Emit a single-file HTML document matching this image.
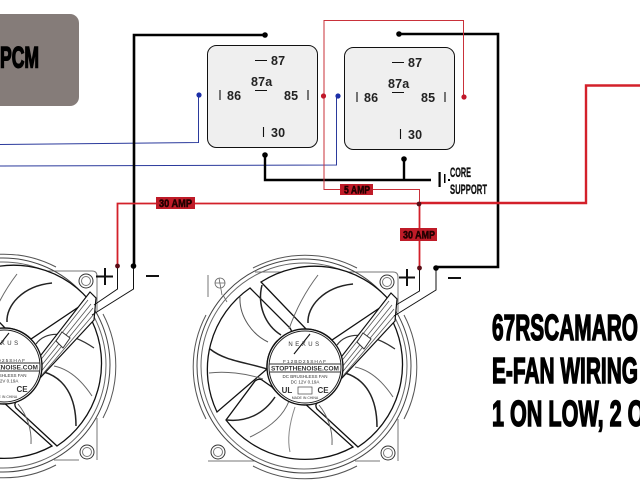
<!DOCTYPE html>
<html><head><meta charset="utf-8"><style>
html,body{margin:0;padding:0;background:#fff;width:640px;height:480px;overflow:hidden}
svg{display:block}
text{font-family:"Liberation Sans",sans-serif}
.h{font-weight:bold;fill:#000;stroke:#000;stroke-width:1.5}
.r{font-size:12.5px;font-weight:bold;fill:#222;letter-spacing:.2px}
.amp{font-size:11px;font-weight:bold;fill:#200;stroke:#200;stroke-width:.5}
.c{font-size:14px;font-weight:bold;fill:#111;stroke:#111;stroke-width:.3}
.f{fill:#333;text-anchor:middle}
</style></head><body>
<svg width="640" height="480" viewBox="0 0 640 480" xmlns="http://www.w3.org/2000/svg">
<defs>
<g id="fan" fill="none" stroke="#222" stroke-width="1">
  <!-- frame -->
  <path d="M-50,-95H88Q93,-95 93,-90V-55M93,52V94M-97,94H-50M50,94H75M-97,-70V-92" stroke="#777"/>
  <!-- outer ring arcs -->
  <path d="M-52,-99A112,112 0 0 1 52,-99" stroke="#555"/>
  <path d="M99,-52A112,112 0 0 1 99,52" stroke="#555"/>
  <path d="M52,99A112,112 0 0 1 -52,99" stroke="#555"/>
  <path d="M-99,52A112,112 0 0 1 -99,-52" stroke="#555"/>
  <circle cx="-1" cy="-1" r="107" stroke="#444"/>
  <circle cx="-1" cy="-1" r="103" stroke="#666"/>
  <!-- windows -->
  <g stroke="#111" stroke-width="1.3" fill="#fff">
    <path d="M-55,-79L-15,-39Q-11,-33 -17,-30L-28,-26A38,38 0 0 0 -38,2L-88,45A99,99 0 0 1 -55,-79Z"/>
    <path d="M-44,-85L1,-38A38,38 0 0 1 27,-27L85,-66A99,99 0 0 0 -44,-85Z"/>
    <path d="M36,10L88,-45A99,99 0 0 1 53,80L12,42Q9,37 14,35A38,38 0 0 0 36,10Z"/>
    <path d="M-79,53A99,99 0 0 0 48,80L-2,35A38,38 0 0 1 -33,20L-43,13Q-46,11 -50,14Z"/>
  </g>
  <!-- blades -->
  <path d="M3,-44C2,-60 18,-80 48,-83" stroke="#222" stroke-width="1.5"/>
  <path d="M-43,-82C-48,-62 -40,-42 -24,-32" stroke="#222" stroke-width="1.5"/>
  <path d="M13,-92C0,-75 -10,-55 -16,-38" stroke="#666"/>
  <path d="M-65,-70C-66,-50 -52,-32 -37,-25" stroke="#555"/>
  <path d="M-95,-18C-80,-6 -60,-5 -38,2" stroke="#222" stroke-width="1.5"/>
  <path d="M-96,6C-80,4 -60,6 -42,12" stroke="#666"/>
  <path d="M32,-22C42,-36 65,-35 90,-18" stroke="#333" stroke-width="1.2"/>
  <path d="M40,6C60,12 72,30 72,60" stroke="#222" stroke-width="1.5"/>
  <path d="M50,0C65,3 78,15 88,30" stroke="#666"/>
  <path d="M-78,53C-60,55 -42,48 -30,30" stroke="#222" stroke-width="1.5"/>
  <path d="M-55,70C-38,62 -22,50 -16,34" stroke="#666"/>
  <path d="M27,78C28,62 22,48 14,38" stroke="#666"/>
  <path d="M-15,85C-18,72 -15,55 -10,40" stroke="#888"/>
  <!-- wire bundle -->
  <path d="M86,-74L92,-68L90,-46L36,12L26,8L30,-2Z" fill="#fff" stroke="#111" stroke-width="1.2"/>
  <path d="M84,-66L31,1M87,-62L33,5M89,-58L35,8M90,-52L37,10" stroke="#555" stroke-width=".8"/>
  <path d="M58,-34L66,-28L59,-18L52,-25Z" fill="#fff" stroke="#333"/>
  <!-- hub -->
  <circle r="38" fill="#fff" stroke="#111" stroke-width="1.4"/>
  <circle r="36" stroke="#222"/>
  <path d="M-36,-3H36M-36,5H36" stroke="#333"/>
  <path d="M5,-33L-11,-13" stroke="#111" stroke-width="1.100"/>
  <!-- screws -->
  <circle cx="82" cy="-85" r="7" fill="#fff" stroke="#333"/><circle cx="82" cy="-85" r="4.500" stroke="#777"/>
  <circle cx="-87" cy="85" r="7" fill="#fff" stroke="#333"/><circle cx="-87" cy="85" r="4.500" stroke="#777"/>
  <circle cx="83" cy="86" r="7" fill="#fff" stroke="#333"/><circle cx="83" cy="86" r="4.500" stroke="#777"/>
</g>
</defs>

<rect width="640" height="480" fill="#fff"/>

<!-- PCM -->
<rect x="-20" y="14" width="99" height="92" rx="9" fill="#857c79"/>
<text class="h" x="0" y="67.500" font-size="30" textLength="39" lengthAdjust="spacingAndGlyphs">PCM</text>

<!-- relays -->
<rect x="207.500" y="45.500" width="110" height="102" rx="9" fill="#efefef" stroke="#111"/>
<rect x="344.500" y="47.500" width="110" height="102" rx="9" fill="#efefef" stroke="#111"/>
<g fill="none" stroke="#111" stroke-width="1.100">
  <path d="M255,60.500H267M220,90V100M308,90V100M255,90.500H267M263.500,127V137"/>
  <path d="M392,62.500H404M357,92V102M445,92V102M392,92.500H404M400.500,129V139"/>
</g>
<text class="r" x="271" y="65">87</text><text class="r" x="251" y="86">87a</text>
<text class="r" x="227" y="100">86</text><text class="r" x="284" y="100">85</text><text class="r" x="271" y="137">30</text>
<text class="r" x="408" y="67">87</text><text class="r" x="388" y="88">87a</text>
<text class="r" x="364" y="102">86</text><text class="r" x="421" y="102">85</text><text class="r" x="408" y="139">30</text>

<!-- blue -->
<g fill="none" stroke="#2b3a9c" stroke-width="1">
  <path d="M0,144.500L198.500,142.500V95"/>
  <path d="M0,166L336.500,165V96"/>
</g>
<circle cx="199" cy="95" r="2.600" fill="#1c2fa8"/>
<circle cx="338" cy="96" r="2.600" fill="#1c2fa8"/>

<!-- fans -->
<use href="#fan" x="305" y="367"/>
<use href="#fan" x="4" y="366"/>
<g stroke="#666" fill="none" stroke-width=".8"><circle cx="220" cy="283" r="5"/><path d="M219,278L222,295M215,283H225M223,295L227,302"/></g>

<!-- hub text -->
<text class="f" x="305" y="346" style="font-size:6px;letter-spacing:2.500px">NEXUS</text>
<text class="f" x="305" y="363" style="font-size:4.800px;letter-spacing:1px">F12BD25SHAF</text>
<text class="f" x="305" y="370.500" style="font-size:6px;font-weight:bold" textLength="68" lengthAdjust="spacingAndGlyphs">STOPTHENOISE.COM</text>
<text class="f" x="305" y="378" style="font-size:4.500px">DC BRUSHLESS FAN</text>
<text class="f" x="305" y="383.500" style="font-size:4.500px">DC 12V 0.19A</text>
<text class="f" x="287" y="393" style="font-size:8px;font-weight:bold">UL</text>
<text class="f" x="323" y="393" style="font-size:8px;font-weight:bold">CE</text>
<text class="f" x="305" y="399" style="font-size:3.500px">MADE IN CHINA</text>
<rect x="298" y="387" width="14" height="7" fill="none" stroke="#444" stroke-width=".7"/>
<text class="f" x="4" y="345" style="font-size:6px;letter-spacing:2.500px">NEXUS</text>
<text class="f" x="4" y="362" style="font-size:4.800px;letter-spacing:1px">F12BD25SHAF</text>
<text class="f" x="4" y="369.500" style="font-size:6px;font-weight:bold" textLength="68" lengthAdjust="spacingAndGlyphs">STOPTHENOISE.COM</text>
<text class="f" x="4" y="377" style="font-size:4.500px">DC BRUSHLESS FAN</text>
<text class="f" x="4" y="382.500" style="font-size:4.500px">DC 12V 0.19A</text>
<text class="f" x="22" y="392" style="font-size:8px;font-weight:bold">CE</text>
<text class="f" x="4" y="398" style="font-size:3.500px">MADE IN CHINA</text>

<!-- thin fan wires -->
<g fill="none" stroke="#111" stroke-width="1">
  <path d="M117.500,266V289L94,305M133.500,266V289L92,315"/>
  <path d="M419.500,268V291L396,305M436,268V290L394,316"/>
</g>

<!-- + - -->
<g stroke="#111" stroke-width="2" fill="none">
  <path d="M96,276.500H113M105,268V285M146,276H159"/>
  <path d="M399,277.500H415M407,269V286M448,278H461"/>
</g>

<!-- black wiring -->
<g fill="none" stroke="#000" stroke-width="2.600">
  <path d="M265,35H134V267"/>
  <path d="M399,34H498V267H436"/>
  <path d="M265,155V180H431" stroke-width="2.400"/>
  <path d="M404,159V179" stroke-width="2.400"/>
</g>
<g fill="#000">
  <circle cx="265" cy="35" r="2.800"/><circle cx="399" cy="34" r="2.800"/>
  <circle cx="265" cy="155" r="2.800"/><circle cx="404" cy="159" r="2.800"/>
  <circle cx="133.500" cy="266" r="2.800"/><circle cx="436" cy="268" r="2.800"/>
  <rect x="438.500" y="172" width="2.200" height="15"/><rect x="444" y="174" width="1.500" height="9"/>
  <rect x="448" y="179" width="2" height="2"/>
</g>
<text class="c" x="450" y="177" textLength="21" lengthAdjust="spacingAndGlyphs">CORE</text>
<text class="c" x="450" y="194" textLength="37" lengthAdjust="spacingAndGlyphs">SUPPORT</text>

<!-- red wiring -->
<g fill="none" stroke="#c9313a" stroke-width="1">
  <path d="M324,96V20.500H463.500V97"/>
  <path d="M324,96V189.500H419.500V203"/>
</g>
<g fill="none" stroke="#d3202a">
  <path d="M117.500,266V203.500H420" stroke-width="1.800"/>
  <path d="M420,203H586V85.500H640" stroke-width="2.400"/>
  <path d="M419.500,203V267" stroke-width="1.800"/>
</g>
<g fill="#c0182a">
  <circle cx="323.500" cy="96" r="2.600"/><circle cx="464" cy="97" r="2.600"/>
</g>
<g fill="#5a0d16">
  <circle cx="419" cy="204" r="2.400"/><circle cx="419.500" cy="268" r="2.400"/><circle cx="117.500" cy="266" r="2.400"/>
</g>

<!-- amp labels -->
<rect x="340" y="184" width="33" height="11" fill="#bf1b28"/>
<rect x="156" y="197" width="39" height="12" fill="#bf1b28"/>
<rect x="400" y="228" width="37" height="13" fill="#bf1b28"/>
<text class="amp" x="344" y="193.500" textLength="26" lengthAdjust="spacingAndGlyphs">5 AMP</text>
<text class="amp" x="159" y="207" textLength="33" lengthAdjust="spacingAndGlyphs">30 AMP</text>
<text class="amp" x="403" y="238.500" textLength="32" lengthAdjust="spacingAndGlyphs">30 AMP</text>

<!-- title text -->
<text class="h" x="492" y="340" font-size="36" textLength="146" lengthAdjust="spacingAndGlyphs">67RSCAMARO</text>
<text class="h" x="492" y="383" font-size="36" textLength="146" lengthAdjust="spacingAndGlyphs">E-FAN WIRING</text>
<text class="h" x="492" y="426" font-size="36" textLength="168" lengthAdjust="spacingAndGlyphs">1 ON LOW, 2 ON</text>
</svg>
</body></html>
